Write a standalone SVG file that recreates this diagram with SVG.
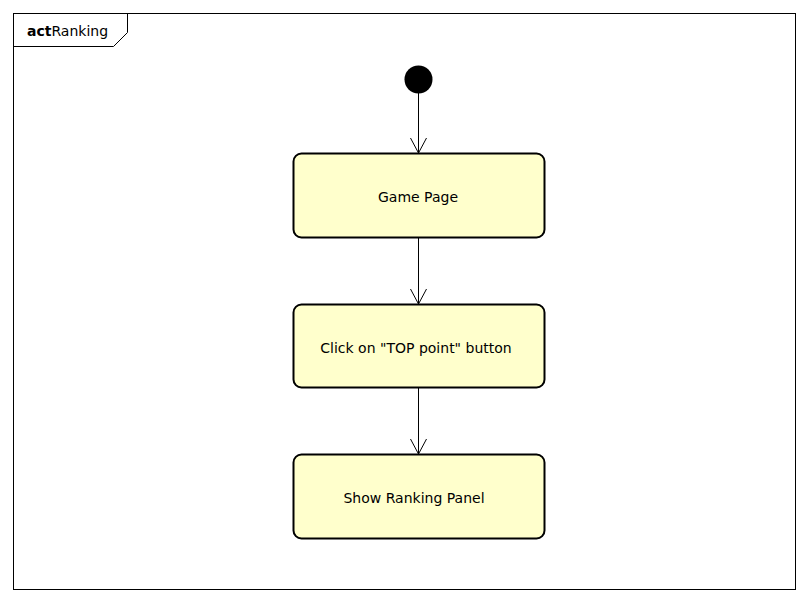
<svg xmlns="http://www.w3.org/2000/svg" width="809" height="602" viewBox="0 0 809 602">
<defs>
<style>
.frame{fill:none;stroke:#000;stroke-width:1}
.node{fill:#ffffcc;stroke:#000;stroke-width:2}
.lbl{font-family:"DejaVu Sans",sans-serif;font-size:14px;fill:#000;text-anchor:middle}
.edge{fill:none;stroke:#000;stroke-width:1}
</style>
<marker id="arr" viewBox="0 0 20 20" refX="17" refY="10" markerWidth="20" markerHeight="20" markerUnits="userSpaceOnUse" orient="auto">
<path d="M2 2 L17 10 L2 18" fill="none" stroke="#000" stroke-width="1"/>
</marker>
</defs>
<rect width="809" height="602" fill="#fff"/>
<g id="frame">
<rect class="frame" x="13.5" y="13.5" width="782" height="576"/>
<path class="frame" d="M13.5 46.5 H113.5 L127.5 32.5 V13.5"/>
<text x="27" y="36" style="font-family:'DejaVu Sans',sans-serif;font-size:14px"><tspan font-weight="bold">act</tspan>Ranking</text>
</g>
<g id="connectors">
<line class="edge" x1="418.5" y1="93" x2="418.5" y2="153" marker-end="url(#arr)"/>
<line class="edge" x1="418.5" y1="238" x2="418.5" y2="304" marker-end="url(#arr)"/>
<line class="edge" x1="418.5" y1="388" x2="418.5" y2="454" marker-end="url(#arr)"/>
</g>
<g id="start">
<circle cx="418.5" cy="79.5" r="14" fill="#000"/>
</g>
<g id="game-page">
<rect class="node" x="293.5" y="153.5" width="251" height="84" rx="8"/>
<text class="lbl" x="418" y="202">Game Page</text>
</g>
<g id="click-top">
<rect class="node" x="293.5" y="304.5" width="251" height="83" rx="8"/>
<text class="lbl" x="416" y="353">Click on "TOP point" button</text>
</g>
<g id="show-ranking">
<rect class="node" x="293.5" y="454.5" width="251" height="84" rx="8"/>
<text class="lbl" x="414" y="503">Show Ranking Panel</text>
</g>
</svg>
